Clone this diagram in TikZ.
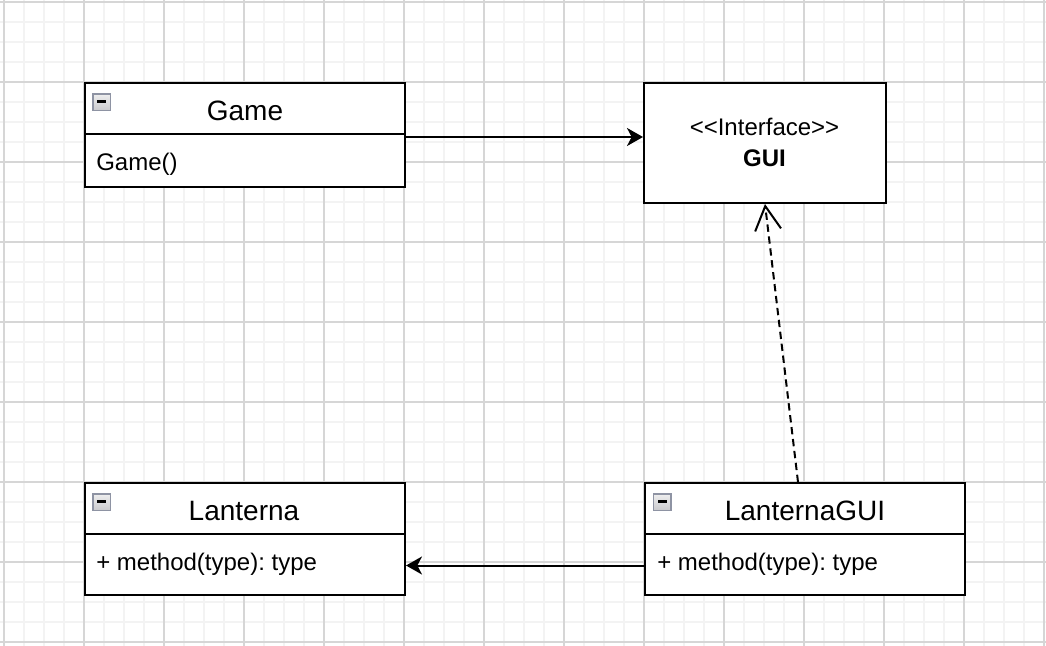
\documentclass[tikz,border=0pt]{standalone}
\usepackage{fontspec}
\setmainfont{Liberation Sans}
\usetikzlibrary{arrows.meta}
\definecolor{gridminor}{HTML}{F3F3F3}
\definecolor{gridmajor}{HTML}{D6D6D6}
\definecolor{iconborder}{HTML}{8E93A3}
\definecolor{icontop}{HTML}{EEEEEE}
\definecolor{iconbot}{HTML}{C8C8CC}
\frenchspacing
\begin{document}
\begin{tikzpicture}[x=0.75pt,y=-0.75pt,
  umlbox/.style={draw=black, line width=1.5pt, fill=white, minimum width=240pt, inner sep=0pt},
  titletext/.style={inner sep=0pt, font=\fontsize{21}{25}\selectfont},
  bodytext/.style={inner sep=0pt, font=\fontsize{18}{22}\selectfont},
  collapseicon/.style={draw=iconborder, line width=1.2pt, top color=icontop, bottom color=iconbot,
    minimum width=13pt, minimum height=12.5pt, inner sep=0pt,
    path picture={\fill[black] ([xshift=-3.5pt,yshift=-0.2pt]path picture bounding box.center) rectangle ([xshift=3.5pt,yshift=1.6pt]path picture bounding box.center);}},
  assoc/.style={line width=1.5pt, -{Stealth[length=12pt,width=13.5pt,inset=3.5pt]}},
  realize/.style={line width=1.5pt, dash pattern=on 5.5pt off 3.5pt, -{Straight Barb[length=18pt,width=19.5pt]}}
]
\useasboundingbox (0,0) rectangle (1046,646);
\fill[white] (0,0) rectangle (1046,646);
% grid
\foreach \i in {0,...,52} \draw[gridminor, line width=1.1pt] ({4+20*\i},0) -- ({4+20*\i},646);
\foreach \j in {0,...,32} \draw[gridminor, line width=1.1pt] (0,{2+20*\j}) -- (1046,{2+20*\j});
\foreach \i in {0,...,13} \draw[gridmajor, line width=1.1pt] ({4+80*\i},0) -- ({4+80*\i},646);
\foreach \j in {0,...,8} \draw[gridmajor, line width=1.1pt] (0,{2+80*\j}) -- (1046,{2+80*\j});

% Game
\node[umlbox, minimum height=38.25pt] (gamehead) at (245,108.5) {};
\node[umlbox, minimum height=39.75pt] (gamebody) at (245,160.5) {};
\node[collapseicon] (gameicon) at (101.7,102.3) {};
\node[titletext, anchor=base] (gametitle) at (245,120) {Game};
\node[bodytext, anchor=base west] (gameop) at (96,170) {Game()};

% GUI interface
\node[umlbox, minimum width=181.5pt, minimum height=90pt] (gui) at (765,143) {};
\node[bodytext, anchor=base] (guister) at (764.5,135) {<\kern0pt<Interface>\kern0pt>};
\node[bodytext, anchor=base, font=\fontsize{18}{22}\selectfont\bfseries] (guiname) at (764.5,166) {GUI};

% Lanterna
\node[umlbox, minimum height=38.25pt] (lanhead) at (245,508.5) {};
\node[umlbox, minimum height=45.75pt] (lanbody) at (245,564.5) {};
\node[collapseicon] (lanicon) at (101.7,502.3) {};
\node[titletext, anchor=base] (lantitle) at (244,520) {Lanterna};
\node[bodytext, anchor=base west] (lanop) at (96,570) {+ method(type): type};

% LanternaGUI
\node[umlbox, minimum height=38.25pt] (lguihead) at (805,508.5) {};
\node[umlbox, minimum height=45.75pt] (lguibody) at (805,564.5) {};
\node[collapseicon] (lguiicon) at (662.2,502.3) {};
\node[titletext, anchor=base] (lguititle) at (805,520) {LanternaGUI};
\node[bodytext, anchor=base west] (lguiop) at (657,570) {+ method(type): type};

% connectors
\coordinate (gameout) at ([yshift=-3pt]gamebody.north east);
\draw[assoc] (gameout) -- (gameout -| gui.west);
\draw[assoc] ([yshift=-0.75pt]lguibody.west) -- ([yshift=-0.75pt]lanbody.east);
\draw[realize] ([xshift=-5.25pt]lguihead.north) -- (gui.south);
\end{tikzpicture}
\end{document}
